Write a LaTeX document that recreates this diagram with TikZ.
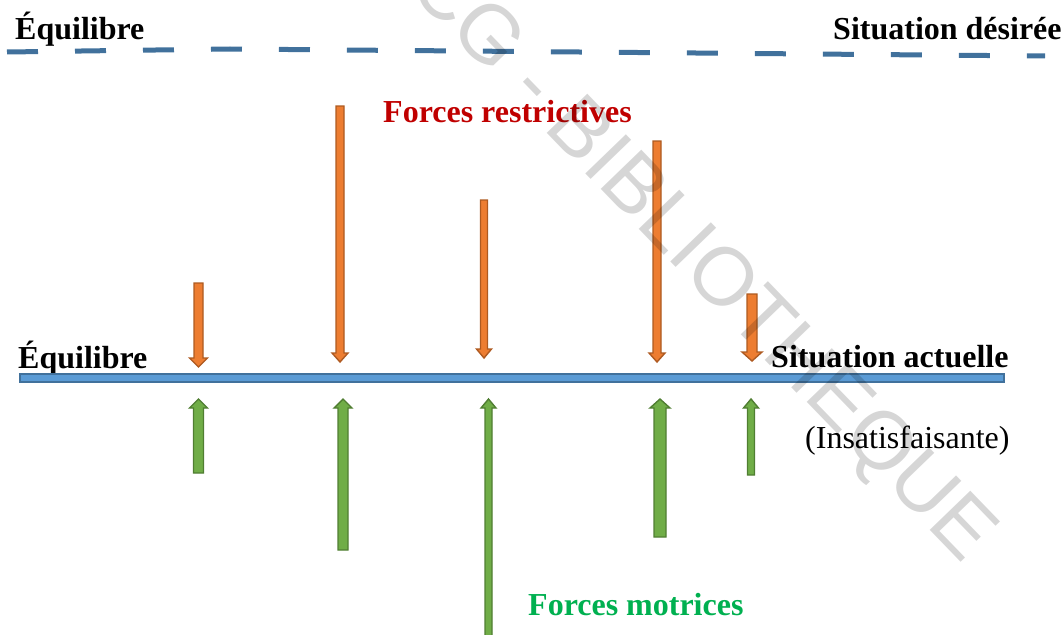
\documentclass[tikz,border=0pt]{standalone}
\usepackage{fontspec}
\setmainfont{Liberation Serif}
\newfontfamily\wmfont{Liberation Sans}
\definecolor{lineblue}{HTML}{41719C}
\definecolor{fillblue}{HTML}{5B9BD5}
\definecolor{orfill}{HTML}{ED7D31}
\definecolor{ordraw}{HTML}{AE5A21}
\definecolor{grfill}{HTML}{70AD47}
\definecolor{grdraw}{HTML}{507E32}
\definecolor{redtxt}{HTML}{C00000}
\definecolor{greentxt}{HTML}{00B050}

% block arrow pointing down: x, top, tip, shaft half-width, head half-width
\newcommand{\forcedn}[5]{%
  \fill[orfill,draw=ordraw,line width=1.4pt,line join=miter]
    (#1-#4,#2) -- (#1+#4,#2) -- (#1+#4,#3-9) -- (#1+#5,#3-9) -- (#1,#3)
    -- (#1-#5,#3-9) -- (#1-#4,#3-9) -- cycle;}
% block arrow pointing up: x, tip, bottom, shaft half-width, head half-width
\newcommand{\forceup}[5]{%
  \fill[grfill,draw=grdraw,line width=1.4pt,line join=miter]
    (#1,#2) -- (#1+#5,#2+9) -- (#1+#4,#2+9) -- (#1+#4,#3) -- (#1-#4,#3)
    -- (#1-#4,#2+9) -- (#1-#5,#2+9) -- cycle;}

\tikzset{
  label/.style={inner sep=0pt,anchor=base west,font=\bfseries\fontsize{32}{38}\selectfont},
}

\begin{document}
\begin{tikzpicture}[x=1pt,y=-1pt]
\useasboundingbox (0,0) rectangle (1064,634);

% desired state (dashed line)
\draw[lineblue,line width=5pt,dash pattern=on 31pt off 37pt]
  (7,52) -- (230,49) -- (1045,56);
\node[label] (eqtop) at (15,40) {Équilibre};
\node[label] (desired) at (833,40) {Situation désirée};

% current state (solid line)
\node[label] (eqbot) at (18,368) {Équilibre};
\node[label] (current) at (771,367) {Situation actuelle};
\node[inner sep=0pt,anchor=base west,font=\fontsize{32}{38}\selectfont] (unsat) at (805,448) {(Insatisfaisante)};
\fill[fillblue,draw=lineblue,line width=1.5pt] (20,374) rectangle (1004,382);

% restraining forces
\node[label,text=redtxt] (restr) at (383,122) {Forces restrictives};
\forcedn{198.5}{283}{367}{4.5}{9}
\forcedn{340}{106}{362}{4}{8}
\forcedn{484}{200}{358}{3.5}{7.5}
\forcedn{657}{141}{362}{4}{8}
\forcedn{752}{294}{361}{5}{10}

% driving forces
\node[label,text=greentxt] (motr) at (528,615) {Forces motrices};
\forceup{198.5}{399}{473}{5}{9}
\forceup{343}{399}{550}{5}{9}
\forceup{488.5}{399}{640}{3.5}{7.5}
\forceup{660}{399}{537}{6}{10}
\forceup{751}{399}{475}{3.5}{7.5}

% watermark
\node[inner sep=0pt,text=black,opacity=0.16,rotate=-46,
      font=\wmfont\fontsize{82}{82}\selectfont] (wm) at (700,262) {CG - BIBLIOTHEQUE};
\end{tikzpicture}
\end{document}
